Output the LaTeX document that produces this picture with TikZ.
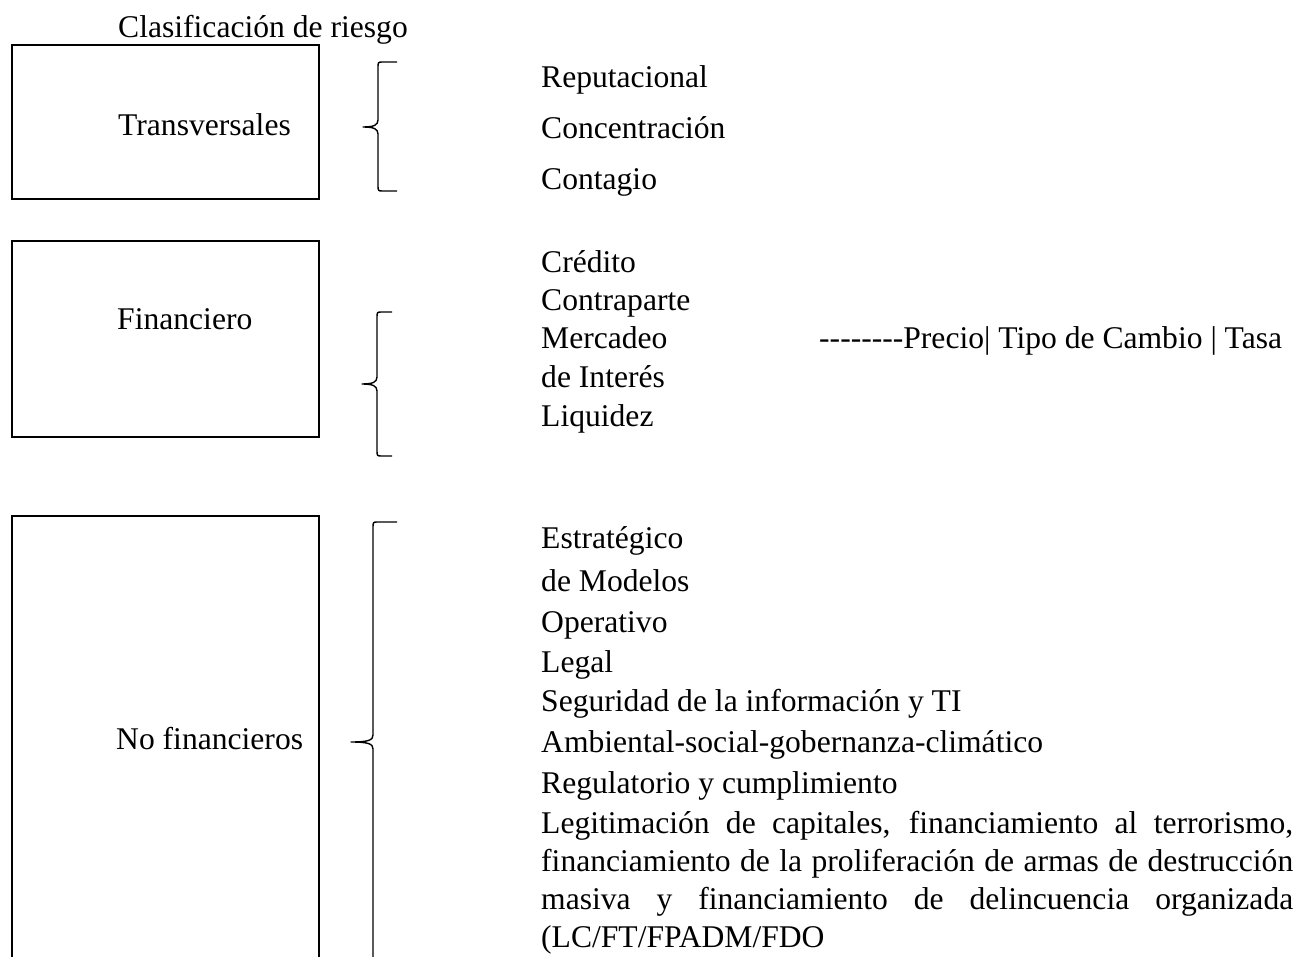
\documentclass[tikz,border=0pt]{standalone}
\usepackage{fontspec}
\setmainfont{Liberation Serif}
\begin{document}
\begin{tikzpicture}[x=1pt,y=-1pt,
  txt/.style={anchor=base west,inner sep=0pt,font=\fontsize{31.6}{38.3}\selectfont},
  boxline/.style={line width=2.6pt},
  braceline/.style={line width=1.4pt,line join=round}]
\useasboundingbox (0,0) rectangle (1299,957);
\clip (0,0) rectangle (1299,957);
\fill[white] (0,0) rectangle (1299,957);
% title
\node[txt] (title) at (118,38) {Clasificación de riesgo};
% boxes
\draw[boxline] (12,45) rectangle (319,199);
\node[txt] (trans) at (118,136) {Transversales};
\draw[boxline] (12,241) rectangle (319,437);
\node[txt] (fin) at (117,330) {Financiero};
\draw[boxline] (12,1000) -- (12,516) -- (319,516) -- (319,1000);
\node[txt] (nofin) at (116,749) {No financieros};
% braces
\newcommand{\mybrace}[6]{%
  \draw[braceline] (#6,#1) -- (#5+5,#1) .. controls (#5,#1) .. (#5,#1+6) -- (#5,#2-7)
    .. controls (#5,#2-2) and (#5-4,#2) .. (#4,#2)
    .. controls (#5-4,#2) and (#5,#2+2) .. (#5,#2+7) -- (#5,#3-6)
    .. controls (#5,#3) .. (#5+5,#3) -- (#6,#3);}
\mybrace{62}{127}{191}{363}{378}{397}
\mybrace{312}{384}{456}{362}{377}{392}
\mybrace{522}{742}{1100}{351}{373}{397}
% items transversales
\node[txt] (rep) at (541,88) {Reputacional};
\node[txt] (con) at (541,138.5) {Concentración};
\node[txt] (cont) at (541,189.5) {Contagio};
% items financiero
\node[txt] (cre) at (541,273) {Crédito};
\node[txt] (contra) at (541,311) {Contraparte};
\node[txt] (merc) at (541,349) {Mercadeo};
\node[txt] (prec) at (819,349) {-{}-{}-{}-{}-{}-{}-{}-Precio| Tipo de Cambio | Tasa};
\node[txt] (int) at (541,388) {de Interés};
\node[txt] (liq) at (541,427) {Liquidez};
% items no financieros
\node[txt] (est) at (541,548.5) {Estratégico};
\node[txt] (mod) at (541,591) {de Modelos};
\node[txt] (ope) at (541,632) {Operativo};
\node[txt] (leg) at (541,672) {Legal};
\node[txt] (seg) at (541,711) {Seguridad de la información y TI};
\node[txt] (amb) at (541,752) {Ambiental-social-gobernanza-climático};
\node[txt] (reg) at (541,793) {Regulatorio y cumplimiento};
\node[txt,text width=752pt,align=justify] (lc) at (541,833) {Legitimación de capitales, financiamiento al \mbox{terrorismo,}\linebreak \mbox{financiamiento} de la proliferación de armas de \mbox{destrucción}\linebreak masiva y financiamiento de delincuencia \mbox{organizada}\linebreak \mbox{(LC/FT/FPADM/FDO}};
\end{tikzpicture}
\end{document}
